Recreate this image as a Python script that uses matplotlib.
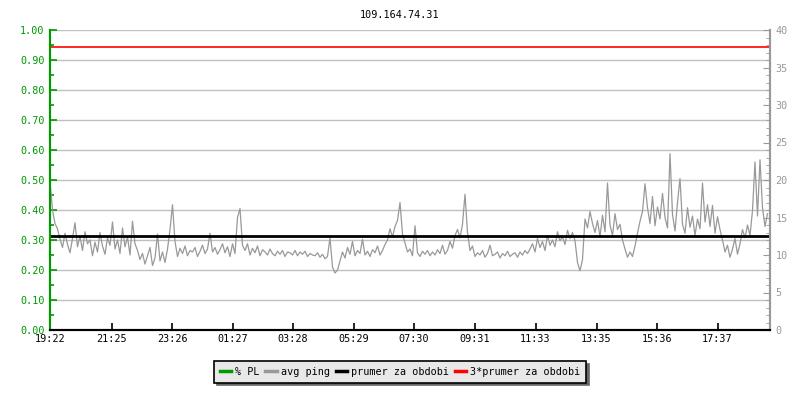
import numpy as np
import matplotlib
matplotlib.use("Agg")
import matplotlib.pyplot as plt
from matplotlib.ticker import MultipleLocator, FormatStrFormatter

title = "109.164.74.31"

# minutes from 19:22, one sample every 5 min
tick_minutes = [0, 123, 244, 365, 486, 607, 728, 849, 971, 1093, 1214, 1335]
tick_labels = ["19:22", "21:25", "23:26", "01:27", "03:28", "05:29",
               "07:30", "09:31", "11:33", "13:35", "15:36", "17:37"]

avg_ping = [
    19.8, 16.0, 14.2, 13.5, 12.1, 11.0, 12.9, 11.4, 10.3, 12.2, 14.3, 11.1,
    12.5, 10.6, 13.1, 11.5, 12.0, 9.9, 11.7, 10.4, 13.0, 11.2, 10.1, 12.3,
    11.3, 14.4, 10.8, 12.0, 10.2, 13.6, 11.1, 12.4, 10.0, 14.5, 11.5, 10.6,
    9.4, 10.2, 8.8, 9.9, 11.0, 8.6, 9.6, 12.8, 9.2, 10.4, 9.0, 10.8,
    13.4, 16.7, 11.8, 9.8, 10.9, 10.2, 11.2, 9.9, 10.6, 10.4, 11.0, 9.8,
    10.5, 11.3, 10.2, 10.8, 12.9, 10.4, 11.0, 10.1, 10.7, 11.5, 10.3, 11.1,
    9.8, 11.5, 10.2, 15.0, 16.2, 11.3, 10.6, 11.5, 10.0, 10.9, 10.3, 11.2,
    9.9, 10.7, 10.4, 10.0, 10.8, 10.2, 9.9, 10.5, 10.1, 10.6, 9.8, 10.4,
    10.3, 10.0, 10.6, 9.9, 10.4, 10.1, 10.5, 9.8, 10.2, 10.0, 9.9, 10.3,
    9.7, 10.1, 9.5, 9.8, 12.3, 8.4, 7.6, 8.0, 9.2, 10.4, 9.6, 11.0,
    10.1, 11.8, 9.9, 10.6, 10.2, 12.1, 10.0, 10.5, 9.8, 10.7, 10.3, 11.2,
    10.0, 10.6, 11.4, 12.0, 13.5, 12.4, 13.8, 14.6, 17.0, 12.8, 11.6, 10.4,
    10.8, 9.9, 13.9, 10.3, 9.8, 10.5, 10.1, 10.6, 9.9, 10.4, 10.0, 10.7,
    10.2, 11.3, 10.1, 10.6, 11.8, 10.9, 12.6, 13.4, 12.3, 14.1, 18.1, 13.0,
    10.6, 11.2, 9.8, 10.3, 10.0, 10.6, 9.7, 10.2, 11.3, 9.9, 10.1, 10.4,
    9.6, 10.2, 9.9, 10.5, 9.8, 10.1, 10.3, 9.7, 10.4, 10.0, 10.6, 10.2,
    10.8, 11.5, 10.4, 12.2, 11.0, 11.8, 10.6, 12.6, 11.3, 12.0, 11.1, 13.1,
    11.9, 12.4, 11.4, 13.3, 12.2, 13.0, 11.9, 9.0, 7.9, 9.4, 14.8, 13.6,
    15.8, 14.2, 13.0, 14.6, 12.4, 15.3, 13.1, 19.6, 14.0, 12.6, 15.5, 13.4,
    14.1, 12.0, 10.8, 9.7, 10.4, 9.8, 11.2, 12.9, 14.5, 15.8, 19.5, 16.3,
    14.2, 17.8, 13.9, 16.4, 14.8, 18.2, 15.0, 13.6, 23.5, 15.4, 13.2, 17.0,
    20.2, 14.1, 12.9, 16.3, 13.7, 15.2, 12.6, 14.8, 13.5, 19.6, 14.4, 16.7,
    13.8, 16.6, 12.9, 15.1, 13.4, 12.0, 10.4, 11.3, 9.7, 10.8, 12.2, 10.1,
    11.5, 13.4, 12.3, 14.0, 12.6, 15.9, 22.4, 15.2, 22.7, 16.3, 13.8, 15.5,
]
packet_loss = [0.0] * len(avg_ping)
mean_ping = 12.6

minutes = np.arange(len(avg_ping)) * 5

mono = "DejaVu Sans Mono"
fs = 7.3
fig = plt.figure(figsize=(8, 4), dpi=100)
ax = fig.add_axes([50 / 800, 70 / 400, 720 / 800, 300 / 400])
ax2 = ax.twinx()

ax.set_xlim(0, 1440)
ax.set_ylim(0, 1)
ax2.set_ylim(0, 40)

for y in np.arange(0.1, 1.01, 0.1):
    ax.axhline(y, color="#c0c0c0", lw=1, zorder=0)

ax.plot(minutes, packet_loss, color="#009900", lw=1, zorder=1)
ax2.plot(minutes, avg_ping, color="#999999", lw=0.9)
ax2.axhline(mean_ping, color="black", lw=2)
ax2.axhline(3 * mean_ping, color="#ff0000", lw=1.2)

ax.yaxis.set_major_locator(MultipleLocator(0.1))
ax.yaxis.set_minor_locator(MultipleLocator(0.05))
ax.yaxis.set_major_formatter(FormatStrFormatter("%.2f"))
ax.tick_params(axis="y", which="both", direction="in", colors="#009900",
               labelsize=fs, pad=4)
ax.tick_params(axis="y", which="major", length=5, width=1.2)
ax.tick_params(axis="y", which="minor", length=3, width=1.2)
for lab in ax.get_yticklabels():
    lab.set_family(mono)

ax.set_xticks(tick_minutes)
ax.set_xticklabels(tick_labels, family=mono, fontsize=fs)
ax.tick_params(axis="x", direction="in", length=5, width=1.2, colors="black",
               pad=3)

ax2.yaxis.set_major_locator(MultipleLocator(5))
ax2.yaxis.set_minor_locator(MultipleLocator(1))
ax2.tick_params(axis="y", which="both", direction="in", colors="#999999",
                labelsize=fs, pad=4)
ax2.tick_params(axis="y", which="major", length=5)
ax2.tick_params(axis="y", which="minor", length=3)
for lab in ax2.get_yticklabels():
    lab.set_family(mono)

for a in (ax, ax2):
    a.spines["top"].set_visible(False)
    a.spines["left"].set_color("#009900")
    a.spines["left"].set_linewidth(1.5)
    a.spines["right"].set_color("#999999")
    a.spines["right"].set_linewidth(1.5)
    a.spines["bottom"].set_color("black")
    a.spines["bottom"].set_linewidth(1.5)

fig.text(0.5, 1 - 15 / 400, title, ha="center", va="center",
         family=mono, fontsize=fs)

handles = [
    plt.Line2D([], [], color="#009900", lw=2.5),
    plt.Line2D([], [], color="#999999", lw=2.5),
    plt.Line2D([], [], color="black", lw=2.5),
    plt.Line2D([], [], color="#ff0000", lw=2.5),
]
labels = ["% PL", "avg ping", "prumer za obdobi", "3*prumer za obdobi"]
leg = fig.legend(handles, labels, loc="center", bbox_to_anchor=(0.5, 1 - 372 / 400),
                 ncol=4, fancybox=False, shadow={"color": "#666666", "alpha": 1},
                 framealpha=1, facecolor="#e8e8e8", edgecolor="black",
                 prop={"family": mono, "size": fs}, handlelength=1.1,
                 handletextpad=0.4, columnspacing=0.6, borderpad=0.55,
                 borderaxespad=0)
leg.get_frame().set_linewidth(1.2)

fig.savefig("out.png", dpi=100)
